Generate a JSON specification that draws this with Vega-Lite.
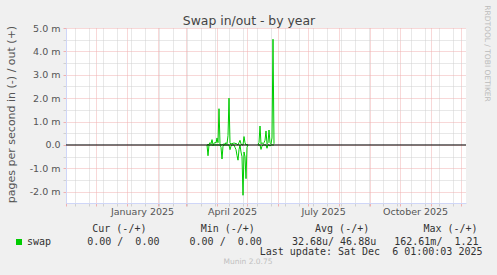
{
  "$schema": "https://vega.github.io/schema/vega-lite/v6.json",
  "width": 400,
  "height": 175,
  "autosize": {"type": "none"},
  "padding": {"left": 66, "top": 28, "right": 31, "bottom": 72},
  "background": "#f0f0f0",
  "config": {
    "view": {"fill": "white", "stroke": null},
    "axis": {"labelFont": "DejaVu Sans", "titleFont": "DejaVu Sans", "titleFontWeight": "normal"}
  },
  "title": {"text": "Munin 2.0.75", "orient": "bottom", "anchor": "middle", "frame": "group", "dx": -18, "offset": 2, "font": "DejaVu Sans", "fontSize": 7.5, "fontWeight": "normal", "color": "#c0c0c0"},
  "resolve": {"axis": {"x": "independent", "y": "independent"}},
  "layer": [
    {
      "data": {"values": [
        {"d": "2025-03-22", "out": 0.00002, "in": 0, "s": 1},
        {"d": "2025-03-23", "out": 0, "in": -0.00046, "s": 1},
        {"d": "2025-03-24", "out": 0.00003, "in": 0, "s": 1},
        {"d": "2025-03-25", "out": 0.0001, "in": 0, "s": 1},
        {"d": "2025-03-26", "out": 0.00005, "in": 0, "s": 1},
        {"d": "2025-03-27", "out": 0.00023, "in": 0, "s": 1},
        {"d": "2025-03-28", "out": 0.00002, "in": -0.00002, "s": 1},
        {"d": "2025-03-29", "out": 0.00005, "in": 0, "s": 1},
        {"d": "2025-03-30", "out": 0.00012, "in": 0, "s": 1},
        {"d": "2025-03-31", "out": 0.00008, "in": 0, "s": 1},
        {"d": "2025-04-01", "out": 0.0003, "in": 0, "s": 1},
        {"d": "2025-04-02", "out": 0.0001, "in": 0, "s": 1},
        {"d": "2025-04-03", "out": 0.00155, "in": 0, "s": 1},
        {"d": "2025-04-04", "out": 0.00005, "in": 0, "s": 1},
        {"d": "2025-04-05", "out": 0, "in": -0.0001, "s": 1},
        {"d": "2025-04-06", "out": 0, "in": -0.0006, "s": 1},
        {"d": "2025-04-07", "out": 0.00002, "in": -0.00005, "s": 1},
        {"d": "2025-04-08", "out": 0.00005, "in": 0, "s": 1},
        {"d": "2025-04-09", "out": 0.00003, "in": 0, "s": 1},
        {"d": "2025-04-10", "out": 0.0001, "in": 0, "s": 1},
        {"d": "2025-04-11", "out": 0.00005, "in": 0, "s": 1},
        {"d": "2025-04-12", "out": 0.0004, "in": 0, "s": 1},
        {"d": "2025-04-13", "out": 0.002, "in": 0, "s": 1},
        {"d": "2025-04-14", "out": 0.0001, "in": -0.0002, "s": 1},
        {"d": "2025-04-15", "out": 0.00002, "in": -0.00005, "s": 1},
        {"d": "2025-04-16", "out": 0.00008, "in": 0, "s": 1},
        {"d": "2025-04-17", "out": 0.00005, "in": 0, "s": 1},
        {"d": "2025-04-18", "out": 0.0001, "in": 0, "s": 1},
        {"d": "2025-04-19", "out": 0.00005, "in": -0.0001, "s": 1},
        {"d": "2025-04-20", "out": 0.00008, "in": -0.0002, "s": 1},
        {"d": "2025-04-21", "out": 0.00002, "in": -0.00045, "s": 1},
        {"d": "2025-04-22", "out": 0, "in": -0.00065, "s": 1},
        {"d": "2025-04-23", "out": 0.0001, "in": -0.0002, "s": 1},
        {"d": "2025-04-24", "out": 0.0002, "in": 0, "s": 1},
        {"d": "2025-04-25", "out": 0.00005, "in": -0.0003, "s": 1},
        {"d": "2025-04-26", "out": 0, "in": -0.0005, "s": 1},
        {"d": "2025-04-27", "out": 0, "in": -0.00215, "s": 1},
        {"d": "2025-04-28", "out": 0.00036, "in": -0.0003, "s": 1},
        {"d": "2025-04-29", "out": 0.0001, "in": -0.0005, "s": 1},
        {"d": "2025-04-30", "out": 0, "in": -0.00144, "s": 1},
        {"d": "2025-05-01", "out": 0.00002, "in": -0.0001, "s": 1},
        {"d": "2025-05-02", "out": 0, "in": 0, "s": 1},
        {"d": "2025-05-12", "out": 0.00002, "in": 0, "s": 2},
        {"d": "2025-05-13", "out": 0.0001, "in": 0, "s": 2},
        {"d": "2025-05-14", "out": 0.00081, "in": 0, "s": 2},
        {"d": "2025-05-15", "out": 0.00005, "in": -0.00019, "s": 2},
        {"d": "2025-05-16", "out": 0.0001, "in": -0.00005, "s": 2},
        {"d": "2025-05-17", "out": 0.00005, "in": 0, "s": 2},
        {"d": "2025-05-18", "out": 0.0001, "in": 0, "s": 2},
        {"d": "2025-05-19", "out": 0.0002, "in": 0, "s": 2},
        {"d": "2025-05-20", "out": 0.0006, "in": 0, "s": 2},
        {"d": "2025-05-21", "out": 0.00005, "in": -0.00014, "s": 2},
        {"d": "2025-05-22", "out": 0.0001, "in": 0, "s": 2},
        {"d": "2025-05-23", "out": 0.00064, "in": 0, "s": 2},
        {"d": "2025-05-24", "out": 0.0001, "in": -0.00005, "s": 2},
        {"d": "2025-05-25", "out": 0.00005, "in": 0, "s": 2},
        {"d": "2025-05-26", "out": 0.0003, "in": 0, "s": 2},
        {"d": "2025-05-27", "out": 0.00452, "in": 0, "s": 2},
        {"d": "2025-05-28", "out": 0.00005, "in": 0, "s": 2}
      ]},
      "transform": [{"fold": ["out", "in"], "as": ["dir", "v"]}],
      "mark": {"type": "line", "strokeWidth": 1, "interpolate": "linear"},
      "encoding": {
        "x": {
          "field": "d", "type": "temporal",
          "scale": {"type": "utc", "nice": false, "domain": [{"year": 2024, "month": 11, "date": 1, "utc": true}, {"year": 2025, "month": 12, "date": 6, "utc": true}]},
          "axis": {
            "orient": "bottom",
            "values": [
              {"year": 2024, "month": 11, "date": 1, "utc": true},
              {"year": 2024, "month": 12, "date": 1, "utc": true},
              {"year": 2025, "month": 1, "date": 1, "utc": true},
              {"year": 2025, "month": 2, "date": 1, "utc": true},
              {"year": 2025, "month": 3, "date": 1, "utc": true},
              {"year": 2025, "month": 4, "date": 1, "utc": true},
              {"year": 2025, "month": 5, "date": 1, "utc": true},
              {"year": 2025, "month": 6, "date": 1, "utc": true},
              {"year": 2025, "month": 7, "date": 1, "utc": true},
              {"year": 2025, "month": 8, "date": 1, "utc": true},
              {"year": 2025, "month": 9, "date": 1, "utc": true},
              {"year": 2025, "month": 10, "date": 1, "utc": true},
              {"year": 2025, "month": 11, "date": 1, "utc": true},
              {"year": 2025, "month": 12, "date": 1, "utc": true},
              {"year": 2024, "month": 11, "date": 10, "utc": true},
              {"year": 2024, "month": 11, "date": 24, "utc": true},
              {"year": 2024, "month": 12, "date": 8, "utc": true},
              {"year": 2024, "month": 12, "date": 22, "utc": true},
              {"year": 2025, "month": 1, "date": 5, "utc": true},
              {"year": 2025, "month": 1, "date": 19, "utc": true},
              {"year": 2025, "month": 2, "date": 2, "utc": true},
              {"year": 2025, "month": 2, "date": 16, "utc": true},
              {"year": 2025, "month": 3, "date": 2, "utc": true},
              {"year": 2025, "month": 3, "date": 16, "utc": true},
              {"year": 2025, "month": 3, "date": 30, "utc": true},
              {"year": 2025, "month": 4, "date": 13, "utc": true},
              {"year": 2025, "month": 4, "date": 27, "utc": true},
              {"year": 2025, "month": 5, "date": 11, "utc": true},
              {"year": 2025, "month": 5, "date": 25, "utc": true},
              {"year": 2025, "month": 6, "date": 8, "utc": true},
              {"year": 2025, "month": 6, "date": 22, "utc": true},
              {"year": 2025, "month": 7, "date": 6, "utc": true},
              {"year": 2025, "month": 7, "date": 20, "utc": true},
              {"year": 2025, "month": 8, "date": 3, "utc": true},
              {"year": 2025, "month": 8, "date": 17, "utc": true},
              {"year": 2025, "month": 8, "date": 31, "utc": true},
              {"year": 2025, "month": 9, "date": 14, "utc": true},
              {"year": 2025, "month": 9, "date": 28, "utc": true},
              {"year": 2025, "month": 10, "date": 12, "utc": true},
              {"year": 2025, "month": 10, "date": 26, "utc": true},
              {"year": 2025, "month": 11, "date": 9, "utc": true},
              {"year": 2025, "month": 11, "date": 23, "utc": true},
              {"year": 2025, "month": 1, "date": 16, "hours": 1, "utc": true},
              {"year": 2025, "month": 4, "date": 16, "hours": 1, "utc": true},
              {"year": 2025, "month": 7, "date": 16, "hours": 1, "utc": true},
              {"year": 2025, "month": 10, "date": 16, "hours": 1, "utc": true}
            ],
            "grid": true,
            "gridDash": [1, 1],
            "gridColor": {"condition": {"test": "utcdate(datum.value) === 1", "value": "#f0b0b0"}, "value": "#d0d0d0"},
            "gridOpacity": {"condition": {"test": "utchours(datum.value) === 1", "value": 0}, "value": 1},
            "ticks": true,
            "tickSize": 3,
            "tickColor": {"condition": {"test": "utcdate(datum.value) === 1", "value": "#f0b0b0"}, "value": "#d0d0d0"},
            "tickOpacity": {"condition": {"test": "utchours(datum.value) === 1", "value": 0}, "value": 1},
            "labelExpr": "utchours(datum.value) === 1 ? utcFormat(datum.value, '%B %Y') : ''",
            "labelOverlap": false,
            "labelFlush": false,
            "labelBound": false,
            "labelFontSize": 9.5,
            "labelColor": "#555555",
            "labelBaseline": "middle",
            "labelPadding": 5.4,
            "domainColor": "#CFD6F8",
            "title": "Last\u00a0update:\u00a0Sat\u00a0Dec\u00a0\u00a06\u00a001:00:03\u00a02025",
            "titleFont": "DejaVu Sans Mono",
            "titleFontSize": 10,
            "titleColor": "#333333",
            "titleAlign": "right",
            "titleBaseline": "middle",
            "titleX": 416,
            "titleY": 48
          }
        },
        "y": {
          "field": "v", "type": "quantitative",
          "scale": {"domain": [-0.00248, 0.005], "nice": false, "zero": false},
          "axis": {
            "orient": "left",
            "values": [-0.002, -0.0015, -0.001, -0.0005, 0, 0.0005, 0.001, 0.0015, 0.002, 0.0025, 0.003, 0.0035, 0.004, 0.0045, 0.005],
            "grid": true,
            "gridDash": [1, 1],
            "gridColor": {"condition": {"test": "abs(datum.value*1000 - round(datum.value*1000)) < 0.01", "value": "#f0b0b0"}, "value": "#d0d0d0"},
            "ticks": true,
            "tickSize": 3,
            "tickColor": {"condition": {"test": "abs(datum.value*1000 - round(datum.value*1000)) < 0.01", "value": "#f0b0b0"}, "value": "#d0d0d0"},
            "labelExpr": "abs(datum.value*1000 - round(datum.value*1000)) < 0.01 ? (datum.value === 0 ? '0.0' : (datum.value < 0 ? '-' : '') + format(abs(datum.value*1000), '.1f') + ' m') : ''",
            "labelOverlap": false,
            "labelFlush": false,
            "labelBound": false,
            "labelFontSize": 9.5,
            "labelColor": "#555555",
            "labelPadding": 3,
            "domainColor": "#CFD6F8",
            "title": "pages per second in (-) / out (+)",
            "titleFontSize": 11,
            "titleColor": "#555555",
            "titleAngle": -90,
            "titleAlign": "center",
            "titleBaseline": "middle",
            "titleX": -55,
            "titleY": 86
          }
        },
        "detail": [{"field": "dir", "type": "nominal"}, {"field": "s", "type": "nominal"}],
        "color": {
          "datum": "swap", "type": "nominal",
          "scale": {"range": ["#00cc00"]},
          "legend": {
            "orient": "none",
            "legendX": -52,
            "legendY": 196,
            "padding": 0,
            "title": "\u200b\u00a0\u00a0\u00a0\u00a0\u00a0\u00a0\u00a0\u00a0\u00a0\u00a0\u00a0\u00a0\u00a0Cur\u00a0(-/+)\u00a0\u00a0\u00a0\u00a0\u00a0\u00a0\u00a0\u00a0\u00a0Min\u00a0(-/+)\u00a0\u00a0\u00a0\u00a0\u00a0\u00a0\u00a0\u00a0\u00a0\u00a0Avg\u00a0(-/+)\u00a0\u00a0\u00a0\u00a0\u00a0\u00a0\u00a0\u00a0\u00a0Max\u00a0(-/+)",
            "titleFont": "DejaVu Sans Mono",
            "titleFontSize": 10,
            "titleFontWeight": "normal",
            "titleColor": "#333333",
            "titleLimit": 1000,
            "titlePadding": 3,
            "labelExpr": "'swap\u00a0\u00a0\u00a0\u00a0\u00a0\u00a00.00\u00a0/\u00a0\u00a00.00\u00a0\u00a0\u00a0\u00a0\u00a00.00\u00a0/\u00a0\u00a00.00\u00a0\u00a0\u00a0\u00a0\u00a032.68u/\u00a046.88u\u00a0\u00a0\u00a0162.61m/\u00a0\u00a01.21'",
            "labelFont": "DejaVu Sans Mono",
            "labelFontSize": 10,
            "labelColor": "#333333",
            "labelLimit": 1000,
            "labelOffset": 3,
            "symbolType": "square",
            "symbolSize": 36,
            "symbolFillColor": "#00cc00",
            "symbolStrokeColor": "#00cc00",
            "symbolStrokeWidth": 0
          }
        }
      }
    },
    {
      "data": {"values": [{}]},
      "mark": {"type": "rule", "color": "#000000", "strokeWidth": 1},
      "encoding": {
        "x": {
          "datum": {"year": 2024, "month": 11, "date": 1, "utc": true}, "type": "temporal",
          "axis": {
            "orient": "top", "domain": false, "ticks": false, "labels": false, "grid": false,
            "title": "Swap in/out - by year",
            "titleFont": "DejaVu Sans", "titleFontSize": 12.4, "titleFontWeight": "normal", "titleColor": "#444444",
            "titleAlign": "center", "titleBaseline": "alphabetic",
            "titleX": 182.5, "titleY": -4
          }
        },
        "x2": {"datum": {"year": 2025, "month": 12, "date": 6, "utc": true}},
        "y": {
          "datum": 0, "type": "quantitative",
          "axis": {
            "orient": "right", "domain": false, "ticks": false, "labels": false, "grid": false,
            "title": "RRDTOOL / TOBI OETIKER",
            "titleFont": "DejaVu Sans", "titleFontSize": 7.5, "titleFontWeight": "normal", "titleColor": "#bbbbbb",
            "titleAngle": 90, "titleAlign": "center", "titleBaseline": "middle",
            "titleX": 20, "titleY": 25
          }
        }
      }
    }
  ]
}
